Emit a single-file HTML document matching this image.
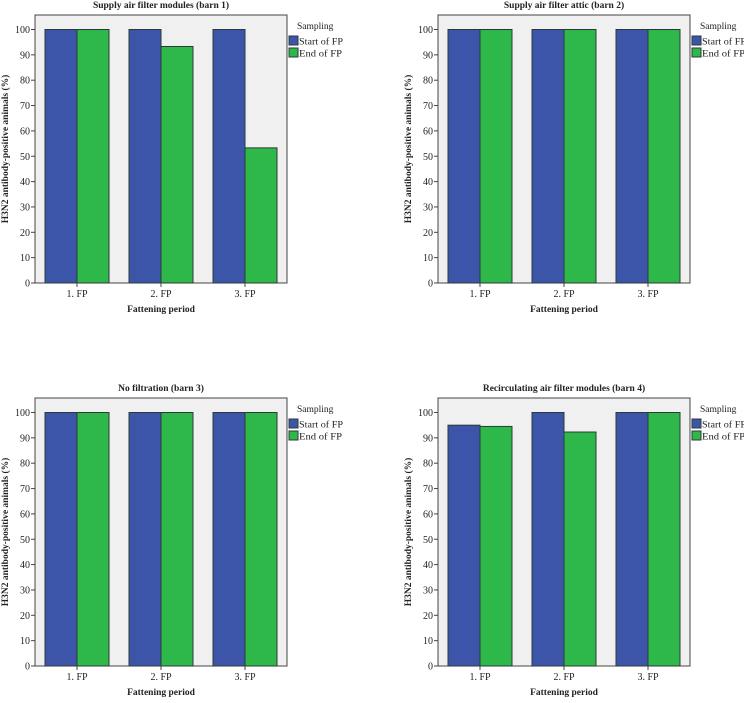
<!DOCTYPE html>
<html><head><meta charset="utf-8"><style>
body{margin:0;background:#fff;width:744px;height:698px;overflow:hidden}
svg text{font-family:"Liberation Serif",serif;fill:#222}
</style></head><body>
<svg id="c" width="744" height="698"></svg>
<script>
const categories=["1. FP","2. FP","3. FP"];
const titles=["Supply air filter modules (barn 1)","Supply air filter attic (barn 2)","No filtration (barn 3)","Recirculating air filter modules (barn 4)"];
const startValues=[[100,100,100],[100,100,100],[100,100,100],[95,100,100]];
const endValues=[[100,93.3,53.3],[100,100,100],[100,100,100],[94.5,92.3,100]];
const yTicks=[0,10,20,30,40,50,60,70,80,90,100];
const seriesNames=["Start of FP","End of FP"];
const colors=["#3d55a8","#2fb84a"];
const NS="http://www.w3.org/2000/svg";
const svg=document.getElementById("c");
function mk(tag,attrs,parent,txt){const e=document.createElementNS(NS,tag);for(const k in attrs)e.setAttribute(k,attrs[k]);if(txt!=null)e.textContent=txt;parent.appendChild(e);return e;}
const panels=[{x:35,y:15},{x:438,y:15},{x:35,y:398},{x:438,y:398}];
panels.forEach((p,i)=>{
  const g=mk("g",{},svg);
  
  
  const W=252,H=268,bottom=p.y+H;
  const y=v=>bottom-v*2.535;
  const gw=W/3;
  const r=mk("rect",{x:p.x,y:p.y,width:W,height:H,fill:"#f0f0f0",stroke:"#444","stroke-width":1},g);
  
  const t=mk("text",{x:p.x+W/2,y:p.y-7,"text-anchor":"middle","font-size":"9.5","font-weight":"bold"},g,titles[i]);
  
  yTicks.forEach(v=>{
    mk("line",{x1:p.x-4,x2:p.x,y1:y(v),y2:y(v),stroke:"#444"},g);
    const tl=mk("text",{x:p.x-5,y:y(v)+3.5,"text-anchor":"end","font-size":"10"},g,v);
    
  });
  categories.forEach((c,j)=>{
    const cx=p.x+gw*(j+0.5);
    [startValues[i][j],endValues[i][j]].forEach((v,s)=>{
      const b=mk("rect",{x:cx-32+s*32,y:y(v),width:32,height:bottom-y(v),fill:colors[s],stroke:"#2a3a3a","stroke-width":1},g);
      
      
    });
    mk("line",{x1:cx,x2:cx,y1:bottom,y2:bottom+4,stroke:"#444"},g);
    const xl=mk("text",{x:cx,y:bottom+14,"text-anchor":"middle","font-size":"10"},g,c);
    
  });
  const xt=mk("text",{x:p.x+W/2,y:bottom+29,"text-anchor":"middle","font-size":"9.5","font-weight":"bold"},g,"Fattening period");
  
  const yx=p.x-27,yy=p.y+H/2;
  const yt=mk("text",{x:yx,y:yy,"text-anchor":"middle","font-size":"9.5","font-weight":"bold",transform:`rotate(-90 ${yx} ${yy})`},g,"H3N2 antibody-positive animals (%)");
  
  const lx=p.x+W+2;
  const lt=mk("text",{x:lx+8,y:p.y+14,"font-size":"9.5"},g,"Sampling");
  
  seriesNames.forEach((n,s)=>{
    const ly=p.y+21+s*12;
    const sw=mk("rect",{x:lx,y:ly,width:9,height:9,fill:colors[s],stroke:"#2a3a3a"},g);
    
    const le=mk("text",{x:lx+10,y:ly+8.5,"font-size":"9.5",textLength:(s?43:44),lengthAdjust:"spacingAndGlyphs"},g,n);
    
  });
});
</script>
</body></html>
